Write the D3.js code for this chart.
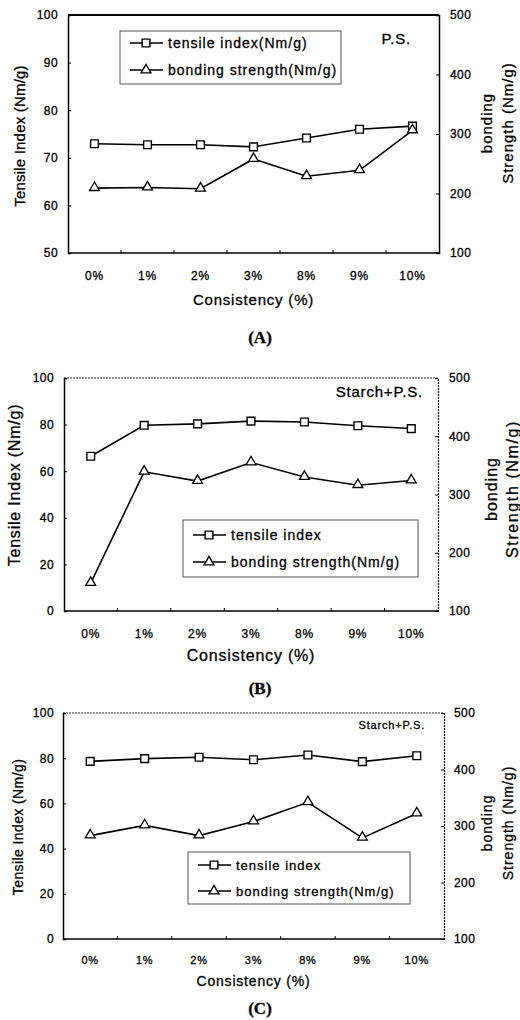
<!DOCTYPE html>
<meta charset="utf-8">
<script src="https://d3js.org/d3.v7.min.js"></script>
<html>
<head>
<style>
body { margin: 0; background: #fff; }
text { font-family: "Liberation Sans", Arial, sans-serif; fill: #000; stroke: #000; stroke-width: 0.3px; }
</style>
</head>
<body>
<svg id="chart" width="520" height="1020"></svg>
<script>

// categories on the x axis (same for all panels)
var categories = ["0%", "1%", "2%", "3%", "8%", "9%", "10%"];

// panel A - P.S.
var tensileA = [72.95, 72.75, 72.75, 72.3, 74.15, 76.0, 76.65];
var bondingA = [209, 210, 208, 258, 229, 239, 306];

// panel B - Starch+P.S.
var tensileB = [66.4, 79.7, 80.3, 81.5, 81.1, 79.5, 78.3];
var bondingB = [148, 339, 323, 355, 330, 316, 324];

// panel C - Starch+P.S.
var tensileC = [78.6, 79.8, 80.4, 79.3, 81.4, 78.5, 81.1];
var bondingC = [283, 301, 283, 308, 342, 279, 322];

// axis ticks
var leftTicksA = [50, 60, 70, 80, 90, 100];
var leftTicksBC = [0, 20, 40, 60, 80, 100];
var rightTicks = [100, 200, 300, 400, 500];

var svg = d3.select("#chart");

// one panel
function drawPanel(p) {
  var g = svg.append("g");

  var x = d3.scaleBand().domain(categories).range([p.left, p.right]);
  var yL = d3.scaleLinear().domain(p.leftDomain).range([p.bottom, p.top]);
  var yR = d3.scaleLinear().domain([100, 500]).range([p.bottom, p.top]);

  // frame top (dotted on scanned B and C)
  g.append("line")
    .attr("x1", p.left).attr("x2", p.right)
    .attr("y1", p.top).attr("y2", p.top)
    .attr("stroke", p.dotted ? "#333" : "#000")
    .attr("stroke-width", p.dotted ? 1.2 : 2)
    .attr("stroke-dasharray", p.dotted ? "2,1" : null);

  // left axis, ticks inside
  var axL = g.append("g")
    .attr("transform", "translate(" + p.left + ",0)")
    .call(d3.axisLeft(yL).tickValues(p.leftTicks).tickSize(-3).tickPadding(p.padL));
  axL.select(".domain").attr("stroke-width", 1.5);
  axL.selectAll("text")
    .style("font-size", p.tickFont + "px")
    .style("letter-spacing", "0.4px")
    .style("font-family", "Liberation Sans, Arial, sans-serif");

  // right axis, ticks inside
  var axR = g.append("g")
    .attr("transform", "translate(" + p.right + ",0)")
    .call(d3.axisRight(yR).tickValues(rightTicks).tickSize(-3).tickPadding(p.padR));
  axR.select(".domain")
    .attr("stroke-width", p.dotted ? 1.2 : 1.5)
    .attr("stroke-dasharray", p.dotted ? "2,1" : null);
  axR.selectAll("text")
    .style("font-size", p.tickFont + "px")
    .style("letter-spacing", "0.4px")
    .style("font-family", "Liberation Sans, Arial, sans-serif");

  // bottom axis, ticks between categories pointing inward
  g.append("line")
    .attr("x1", p.left).attr("x2", p.right)
    .attr("y1", p.bottom).attr("y2", p.bottom)
    .attr("stroke", "#000").attr("stroke-width", 1.5);
  g.selectAll(".xtick")
    .data(categories.slice(1))
    .enter().append("line")
      .attr("x1", function(d){ return x(d); })
      .attr("x2", function(d){ return x(d); })
      .attr("y1", p.bottom).attr("y2", p.bottom - 3)
      .attr("stroke", "#000");
  g.selectAll(".xlab")
    .data(categories)
    .enter().append("text")
      .attr("x", function(d){ return x(d) + x.bandwidth() / 2; })
      .attr("y", p.bottom + p.xLabelGap)
      .attr("text-anchor", "middle")
      .style("font-size", p.xTickFont + "px")
      .style("letter-spacing", "0.8px")
      .text(function(d){ return d; });

  // axis titles
  g.append("text")
    .attr("x", (p.left + p.right) / 2)
    .attr("y", p.bottom + p.xTitleGap)
    .attr("text-anchor", "middle")
    .style("font-size", p.titleFont + "px")
    .style("letter-spacing", "0.8px")
    .text("Consistency (%)");

  g.append("text")
    .attr("transform", "translate(" + p.yTitleX + "," + p.yTitleY + ") rotate(-90)")
    .attr("text-anchor", "middle")
    .style("font-size", p.titleFont + "px")
    .style("letter-spacing", p.yTitleLs + "px")
    .text("Tensile Index (Nm/g)");

  g.append("text")
    .attr("transform", "translate(" + p.rTitleX + "," + p.rTitleY + ") rotate(-90)")
    .attr("text-anchor", "middle")
    .style("font-size", p.titleFont + "px")
    .style("letter-spacing", "1px")
    .text("bonding");
  g.append("text")
    .attr("transform", "translate(" + (p.rTitleX + 21) + "," + p.rTitleY + ") rotate(-90)")
    .attr("text-anchor", "middle")
    .style("font-size", p.titleFont + "px")
    .style("letter-spacing", p.rTitleLs + "px")
    .text("Strength (Nm/g)");

  // panel tag
  g.append("text")
    .attr("x", p.tagX).attr("y", p.tagY)
    .attr("text-anchor", "end")
    .style("font-size", p.tagFont + "px")
    .style("letter-spacing", "0.8px")
    .text(p.tag);

  // series
  var cx = function(d, i){ return x(categories[i]) + x.bandwidth() / 2; };

  var lineL = d3.line().x(cx).y(function(d){ return yL(d); });
  var lineR = d3.line().x(cx).y(function(d){ return yR(d); });

  g.append("path").attr("d", lineL(p.tensile))
    .attr("fill", "none").attr("stroke", "#000").attr("stroke-width", 1.6);
  g.append("path").attr("d", lineR(p.bonding))
    .attr("fill", "none").attr("stroke", "#000").attr("stroke-width", 1.6);

  var sq = d3.symbol().type(d3.symbolSquare).size(60);
  var tri = d3.symbol().type(d3.symbolTriangle).size(42);

  g.selectAll(".sq")
    .data(p.tensile)
    .enter().append("path")
      .attr("d", sq)
      .attr("transform", function(d, i){ return "translate(" + cx(d, i) + "," + yL(d) + ")"; })
      .attr("fill", "#fff").attr("stroke", "#000").attr("stroke-width", 1.4);

  g.selectAll(".tri")
    .data(p.bonding)
    .enter().append("path")
      .attr("d", tri)
      .attr("transform", function(d, i){ return "translate(" + cx(d, i) + "," + (yR(d) - 0.5) + ")"; })
      .attr("fill", "#fff").attr("stroke", "#000").attr("stroke-width", 1.3);

  // legend
  var lg = g.append("g");
  lg.append("rect")
    .attr("x", p.lgX).attr("y", p.lgY)
    .attr("width", p.lgW).attr("height", p.lgH)
    .attr("fill", "#fff").attr("stroke", "#555").attr("stroke-width", 1);
  var rows = [{label: p.lgLabels[0], sym: sq}, {label: p.lgLabels[1], sym: tri}];
  rows.forEach(function(r, i){
    var yy = p.lgY + p.lgRow0 + i * p.lgRowGap;
    lg.append("line")
      .attr("x1", p.lgX + 10).attr("x2", p.lgX + 43)
      .attr("y1", yy).attr("y2", yy)
      .attr("stroke", "#000").attr("stroke-width", 1.6);
    lg.append("path")
      .attr("d", r.sym)
      .attr("transform", "translate(" + (p.lgX + 26) + "," + yy + ")")
      .attr("fill", "#fff").attr("stroke", "#000").attr("stroke-width", 1.4);
    lg.append("text")
      .attr("x", p.lgX + 48).attr("y", yy)
      .attr("dy", "0.36em")
      .style("font-size", p.lgFont + "px")
      .style("letter-spacing", "1px")
      .text(r.label);
  });

  // (A) / (B) / (C)
  g.append("text")
    .attr("x", 260).attr("y", p.capY)
    .attr("text-anchor", "middle")
    .style("font-family", "Liberation Serif, Times New Roman, serif")
    .style("font-weight", "bold")
    .style("font-size", "17px")
    .text(p.caption);
}

drawPanel({
  left: 68, right: 439, top: 15, bottom: 253,
  leftDomain: [50, 100], leftTicks: leftTicksA,
  tensile: tensileA, bonding: bondingA, dotted: false,
  tickFont: 12, xTickFont: 12, titleFont: 15, padL: 10, padR: 11,
  xLabelGap: 27, xTitleGap: 52,
  yTitleX: 25, yTitleY: 136, yTitleLs: 0.2,
  rTitleX: 492, rTitleY: 123, rTitleLs: 1,
  tag: "P.S.", tagX: 411, tagY: 44, tagFont: 15,
  lgX: 120, lgY: 31, lgW: 221, lgH: 53, lgRow0: 12, lgRowGap: 27, lgFont: 14,
  lgLabels: ["tensile index(Nm/g)", "bonding strength(Nm/g)"],
  caption: "(A)", capY: 343
});

drawPanel({
  left: 64, right: 438, top: 378, bottom: 611,
  leftDomain: [0, 100], leftTicks: leftTicksBC,
  tensile: tensileB, bonding: bondingB, dotted: true,
  tickFont: 12, xTickFont: 12, titleFont: 16, padL: 10, padR: 11,
  xLabelGap: 27, xTitleGap: 50,
  yTitleX: 20, yTitleY: 485, yTitleLs: 0.8,
  rTitleX: 497, rTitleY: 489, rTitleLs: 1.6,
  tag: "Starch+P.S.", tagX: 423, tagY: 397, tagFont: 15,
  lgX: 183, lgY: 520, lgW: 235, lgH: 57, lgRow0: 15, lgRowGap: 27, lgFont: 14,
  lgLabels: ["tensile index", "bonding strength(Nm/g)"],
  caption: "(B)", capY: 694
});

drawPanel({
  left: 63, right: 444, top: 713, bottom: 939,
  leftDomain: [0, 100], leftTicks: leftTicksBC,
  tensile: tensileC, bonding: bondingC, dotted: true,
  tickFont: 12, xTickFont: 11, titleFont: 14, padL: 9, padR: 10,
  xLabelGap: 25, xTitleGap: 47,
  yTitleX: 23, yTitleY: 827, yTitleLs: 0.4,
  rTitleX: 492, rTitleY: 823, rTitleLs: 1,
  tag: "Starch+P.S.", tagX: 425, tagY: 729, tagFont: 11,
  lgX: 188, lgY: 852, lgW: 222, lgH: 52, lgRow0: 13, lgRowGap: 26, lgFont: 13,
  lgLabels: ["tensile index", "bonding strength(Nm/g)"],
  caption: "(C)", capY: 1014
});

</script>
</body>
</html>
